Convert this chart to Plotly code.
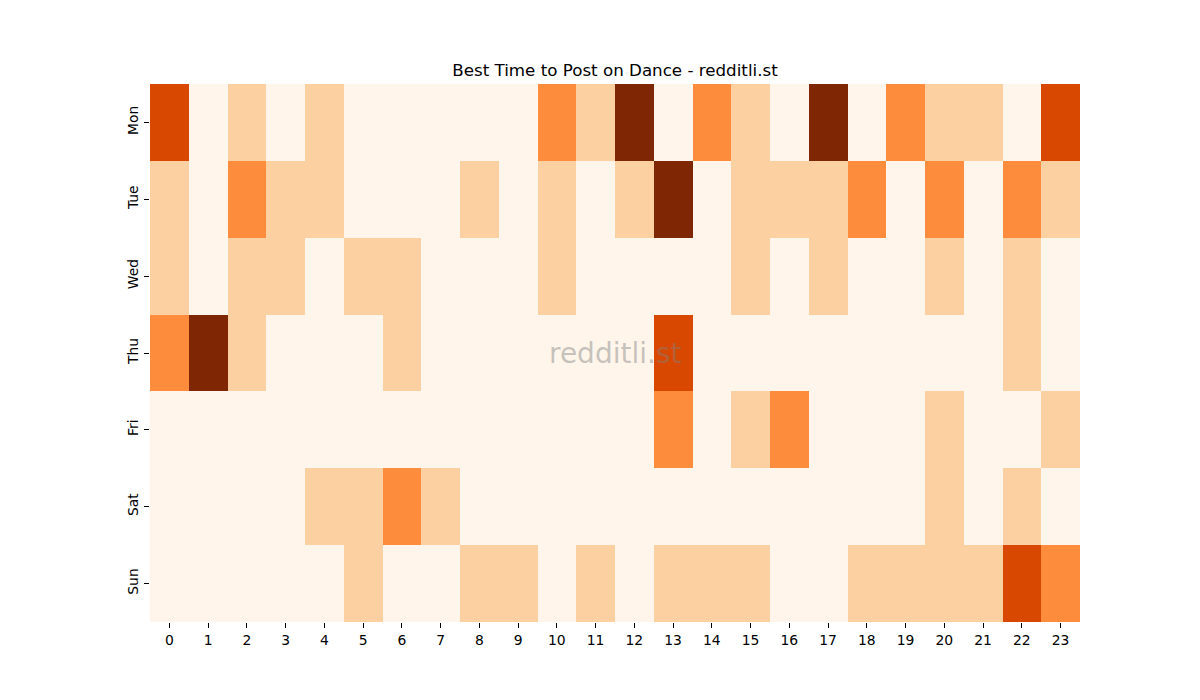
import plotly.graph_objects as go

days = ["Mon", "Tue", "Wed", "Thu", "Fri", "Sat", "Sun"]
hours = [str(h) for h in range(24)]

mon = [3, 0, 1, 0, 1, 0, 0, 0, 0, 0, 2, 1, 4, 0, 2, 1, 0, 4, 0, 2, 1, 1, 0, 3]
tue = [1, 0, 2, 1, 1, 0, 0, 0, 1, 0, 1, 0, 1, 4, 0, 1, 1, 1, 2, 0, 2, 0, 2, 1]
wed = [1, 0, 1, 1, 0, 1, 1, 0, 0, 0, 1, 0, 0, 0, 0, 1, 0, 1, 0, 0, 1, 0, 1, 0]
thu = [2, 4, 1, 0, 0, 0, 1, 0, 0, 0, 0, 0, 0, 3, 0, 0, 0, 0, 0, 0, 0, 0, 1, 0]
fri = [0, 0, 0, 0, 0, 0, 0, 0, 0, 0, 0, 0, 0, 2, 0, 1, 2, 0, 0, 0, 1, 0, 0, 1]
sat = [0, 0, 0, 0, 1, 1, 2, 1, 0, 0, 0, 0, 0, 0, 0, 0, 0, 0, 0, 0, 1, 0, 1, 0]
sun = [0, 0, 0, 0, 0, 1, 0, 0, 1, 1, 0, 1, 0, 1, 1, 1, 0, 0, 1, 1, 1, 1, 3, 2]

z = [mon, tue, wed, thu, fri, sat, sun]

colorscale = [
    [0.0, "#fff5eb"],
    [0.25, "#fdd0a2"],
    [0.5, "#fd8d3c"],
    [0.75, "#d94801"],
    [1.0, "#7f2704"],
]

fig = go.Figure(
    go.Heatmap(
        z=z, x=hours, y=days, zmin=0, zmax=4,
        colorscale=colorscale, showscale=False, xgap=0, ygap=0,
        hoverinfo="x+y+z",
    )
)

fig.update_layout(
    width=1200, height=700,
    paper_bgcolor="white", plot_bgcolor="white",
    margin=dict(l=142, r=128, t=76, b=86, autoexpand=False),
    font=dict(family="DejaVu Sans", size=14, color="black"),
    title=dict(
        text="Best Time to Post on Dance - redditli.st",
        x=607 / 1200, xanchor="center", y=1 - 62 / 700, yanchor="middle",
        font=dict(size=16.7, color="black"),
    ),
    xaxis=dict(
        type="category", showgrid=False, zeroline=False, showline=False,
        ticks="outside", ticklen=5, tickcolor="black", tickfont=dict(size=13.9),
    ),
    yaxis=dict(
        type="category", autorange="reversed", showgrid=False, zeroline=False,
        showline=False, ticks="outside", ticklen=5, tickcolor="black",
        tickangle=-90, tickfont=dict(size=13.9),
    ),
    annotations=[
        dict(
            text="redditli.st", x=0.5, y=0.5, xref="paper", yref="paper",
            showarrow=False, font=dict(size=28, color="rgba(128,128,128,0.45)"),
        )
    ],
)

fig.write_html("out.html")
